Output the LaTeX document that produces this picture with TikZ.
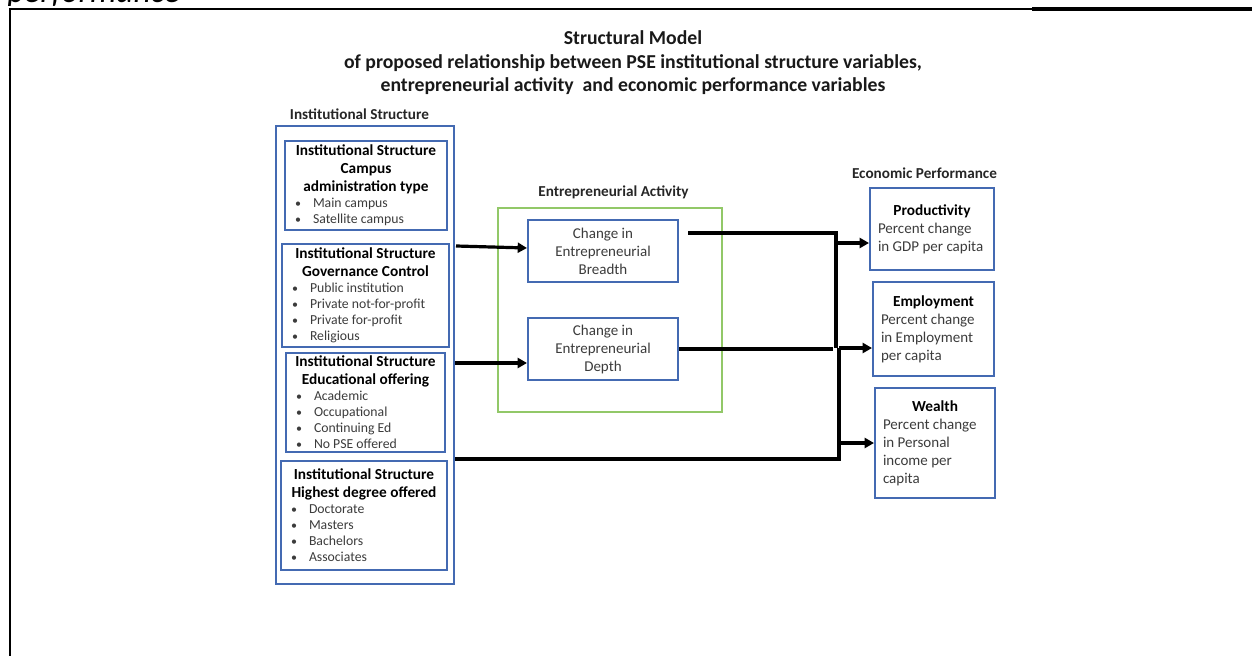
\documentclass[tikz,border=0pt]{standalone}
\usepackage{fontspec}
\setmainfont{Carlito}
\usetikzlibrary{arrows.meta,calc}

\definecolor{boxblue}{RGB}{68,106,178}
\definecolor{actgreen}{RGB}{146,200,104}
\definecolor{bodygray}{RGB}{60,60,60}

% font settings
\newcommand\hdfont{\fontsize{11.5}{13.5}\selectfont\bfseries}
\newcommand\blfont{\fontsize{10.3}{12}\selectfont\mdseries\color{bodygray}}
\newcommand\bdfont{\fontsize{11.25}{13.5}\selectfont\mdseries\color{bodygray}}
\newcommand\bitem[1]{\hspace*{7.5pt}\makebox[13.5pt][l]{\fontsize{9}{12}\selectfont\textbullet}#1\par}

\tikzset{
  ibox/.style={draw=boxblue, line width=1.5pt, inner sep=0pt, fill=white},
  obox/.style={draw=boxblue, line width=1.2pt, inner sep=0pt},
  gbox/.style={draw=actgreen, line width=0.9pt, inner sep=0pt},
  secl/.style={font=\fontsize{11.4}{13.5}\selectfont\bfseries, inner sep=0pt, text=black!85},
  conn/.style={line width=2.4pt, draw=black},
  arr/.style={conn, -{Triangle[length=7pt,width=7.5pt]}},
}

\begin{document}
\begin{tikzpicture}[x=0.75pt,y=-0.75pt]
\useasboundingbox (0,0) rectangle (1252,656);

% page frame and the last line of the caption above it
\begin{scope}
  \clip (0,0) rectangle (1252,5.5);
  \node[anchor=base west, inner sep=0pt, font=\fontsize{25}{30}\selectfont\itshape] (caption) at (7,3) {performance};
\end{scope}
\draw[line width=1.7pt] (10,656) -- (10,9) -- (233,9);
\draw[line width=0.8pt] (233,9) -- (1032,9);
\draw[line width=2.3pt] (1032,9) -- (1252,9);

% title
\node[font=\fontsize{14.8}{17.6}\selectfont\bfseries, align=center, inner sep=0pt, text=black!90] (title) at (633,63)
  {Structural Model\\of proposed relationship between PSE institutional structure variables,\\entrepreneurial activity\ \ and economic performance variables};

% section labels
\node[secl] (instlab) at (359.5,114) {Institutional Structure};
\node[secl] (actlab) at (613.5,192) {Entrepreneurial Activity};
\node[secl] (econlab) at (924.5,173) {Economic Performance};

% institutional structure group
\node[obox, minimum width=178*0.75pt, minimum height=458*0.75pt] (outer) at (365,355) {};

\node[ibox, minimum width=162*0.75pt, minimum height=89*0.75pt] (campus) at (366,185.5) {%
  \begin{minipage}{121.5pt}\centering\hdfont
  Institutional Structure\\Campus\\administration type\par
  \raggedright\blfont
  \bitem{Main campus}\bitem{Satellite campus}\end{minipage}};

\node[ibox, minimum width=167*0.75pt, minimum height=103*0.75pt] (gov) at (365.5,295) {%
  \begin{minipage}{125.25pt}\centering\hdfont
  Institutional Structure\\Governance Control\par
  \raggedright\blfont
  \bitem{Public institution}\bitem{Private not-for-profit}\bitem{Private for-profit}\bitem{Religious}\end{minipage}};

\node[ibox, minimum width=159*0.75pt, minimum height=99*0.75pt] (edu) at (365.5,402) {%
  \begin{minipage}{119.25pt}\centering\hdfont
  Institutional Structure\\Educational offering\par
  \raggedright\blfont
  \bitem{Academic}\bitem{Occupational}\bitem{Continuing Ed}\bitem{No PSE offered}\end{minipage}};

\node[ibox, minimum width=166*0.75pt, minimum height=109*0.75pt] (degree) at (364,515) {%
  \begin{minipage}{124.5pt}\centering\hdfont
  Institutional Structure\\Highest degree offered\par
  \raggedright\blfont
  \bitem{Doctorate}\bitem{Masters}\bitem{Bachelors}\bitem{Associates}\end{minipage}};

% entrepreneurial activity group
\node[gbox, minimum width=224*0.75pt, minimum height=204*0.75pt] (act) at (610,310) {};
\node[ibox, minimum width=150*0.75pt, minimum height=62*0.75pt, align=center, font=\bdfont] (breadth) at (603,251)
  {Change in\\Entrepreneurial\\Breadth};
\node[ibox, minimum width=150*0.75pt, minimum height=62*0.75pt, align=center, font=\bdfont] (depth) at (603,349)
  {Change in\\Entrepreneurial\\Depth};

% economic performance group
\node[ibox, minimum width=124*0.75pt, minimum height=82*0.75pt] (prod) at (932,229) {%
  \begin{minipage}{81pt}\centering\hdfont Productivity\par
  \raggedright\bdfont\mbox{Percent change}\par\mbox{in GDP per capita}\par\end{minipage}};
\node[ibox, minimum width=121*0.75pt, minimum height=94*0.75pt] (emp) at (933.5,329) {%
  \begin{minipage}{78.75pt}\centering\hdfont Employment\par
  \raggedright\bdfont\mbox{Percent change}\par\mbox{in Employment}\par\mbox{per capita}\par\end{minipage}};
\node[ibox, minimum width=120*0.75pt, minimum height=110*0.75pt] (wealth) at (935,443) {%
  \begin{minipage}{78pt}\centering\hdfont Wealth\par
  \raggedright\bdfont\mbox{Percent change}\par\mbox{in Personal}\par\mbox{income per}\par\mbox{capita}\par\end{minipage}};

% connector taps and trunk points
\coordinate (govtap) at (456,246);
\coordinate (edutap) at (455,363);
\coordinate (degtap) at (455,459);
\coordinate (brtap) at (688,233);
\coordinate (busA) at (836,348);
\coordinate (busB) at (839,348);
\coordinate (deptap) at (833,348);
\coordinate (prodin) at ([yshift=-10.5pt]prod.west);
\coordinate (empin) at ([yshift=-14.25pt]emp.west);

% connectors
\draw[arr] (govtap) -- ([yshift=2.25pt]breadth.west);
\draw[arr] (edutap) -- ([yshift=-10.5pt]depth.west);
\draw[conn] (brtap) -| (busA);
\draw[conn] (depth.east) -- (depth.east -| deptap);
\draw[conn] (degtap) -| (busB);
\draw[arr] (prodin -| busA) -- (prodin);
\draw[arr] (empin -| busB) -- (empin);
\draw[arr] (wealth.west -| busB) -- (wealth.west);
\end{tikzpicture}
\end{document}
